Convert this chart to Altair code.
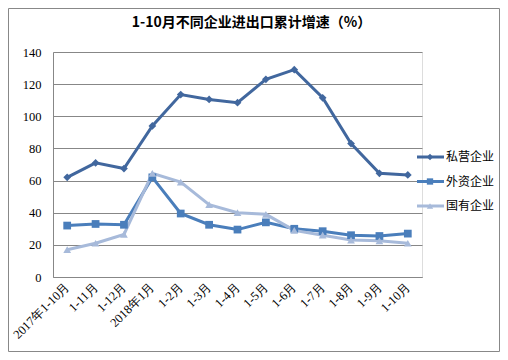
import altair as alt
import pandas as pd

categories = ["2017年1-10月", "1-11月", "1-12月", "2018年1月", "1-2月", "1-3月", "1-4月",
              "1-5月", "1-6月", "1-7月", "1-8月", "1-9月", "1-10月"]
private = [62, 71, 67.5, 94, 113.5, 110.5, 108.5, 123, 129, 111.5, 83, 64.5, 63.5]
foreign = [32, 33, 32.5, 62, 39.5, 32.5, 29.5, 34, 30, 28.5, 26, 25.5, 27]
state = [17, 21, 26.5, 64.5, 59, 45, 40, 39, 29, 26, 23, 22.5, 21]
series = ["私营企业", "外资企业", "国有企业"]
colors = ["#41679e", "#4a7ebb", "#a7bada"]
shapes = ["diamond", "square", "triangle-up"]
y_ticks = [0, 20, 40, 60, 80, 100, 120, 140]
title_text = ["1-10月不同企业进出口累计增速（%）"]

rows = []
for name, vals in zip(series, [private, foreign, state]):
    for i, (c, v) in enumerate(zip(categories, vals)):
        rows.append({"category": c, "series": name, "value": v, "idx": i})
df = pd.DataFrame(rows)
leg_df = pd.DataFrame({"series": series})
one = pd.DataFrame({"a": [0]})
title_df = pd.DataFrame({"t": title_text})

color = alt.Color("series:N", scale=alt.Scale(domain=series, range=colors), legend=None)
shape = alt.Shape("series:N", scale=alt.Scale(domain=series, range=shapes), legend=None)
x = alt.X("category:N", sort=categories,
          scale=alt.Scale(domain=categories, padding=0.5),
          axis=alt.Axis(title=None, ticks=False, labelAngle=315, labelAlign="right",
                        labelBaseline="middle", labelPadding=7,
                        labelFont="Liberation Serif", labelFontSize=12.5, labelColor="#000",
                        domainColor="#878787", grid=False))
y = alt.Y("value:Q", scale=alt.Scale(domain=[0, 140], nice=False),
          axis=alt.Axis(title=None, values=y_ticks, ticks=False, grid=True,
                        gridColor="#878787", domainColor="#878787",
                        labelFont="Liberation Serif", labelFontSize=12.5, labelColor="#000",
                        labelPadding=12))

base = alt.Chart(df)
lines = base.mark_line(strokeWidth=3).encode(x=x, y=y, color=color, detail="series:N")
points = base.mark_point(filled=True, opacity=1, size=60).encode(x=x, y=y, color=color, shape=shape)
main = alt.layer(lines, points)

ly = alt.Y("series:N", scale=alt.Scale(type="point", domain=series, range=[105, 154], padding=0),
           axis=None)
leg = alt.Chart(leg_df)
leg_rule = leg.mark_rule(strokeWidth=3).encode(x=alt.value(364), x2=alt.value(391), y=ly, color=color)
leg_pt = leg.mark_point(filled=True, opacity=1, size=40).encode(x=alt.value(377), y=ly, color=color, shape=shape)
leg_txt = leg.mark_text(align="left", baseline="middle", font="Noto Sans CJK SC", fontSize=12,
                        color="#000").encode(x=alt.value(393), y=ly, text="series:N")
legend = alt.layer(leg_rule, leg_pt, leg_txt)

border = alt.Chart(one).mark_rect(fill=None, stroke="#888888", strokeWidth=1).encode(
    x=alt.value(-44.5), x2=alt.value(446.5), y=alt.value(-43.5), y2=alt.value(299.5))

title = alt.Chart(title_df).mark_text(font="Noto Sans CJK SC", fontSize=14, fontWeight="bold",
                                      color="#000", align="center", baseline="middle").encode(
    x=alt.value(198.5), y=alt.value(-29), text="t:N")

chart = alt.layer(border, title, main, legend).resolve_scale(y="independent").properties(
    width=369, height=225,
    autosize=alt.AutoSizeParams(type="none"),
    padding={"left": 45, "top": 44, "right": 78, "bottom": 75},
).configure_view(stroke=None).configure(background="white")

chart.save("out.html", embed_options={"renderer": "svg", "actions": False})
